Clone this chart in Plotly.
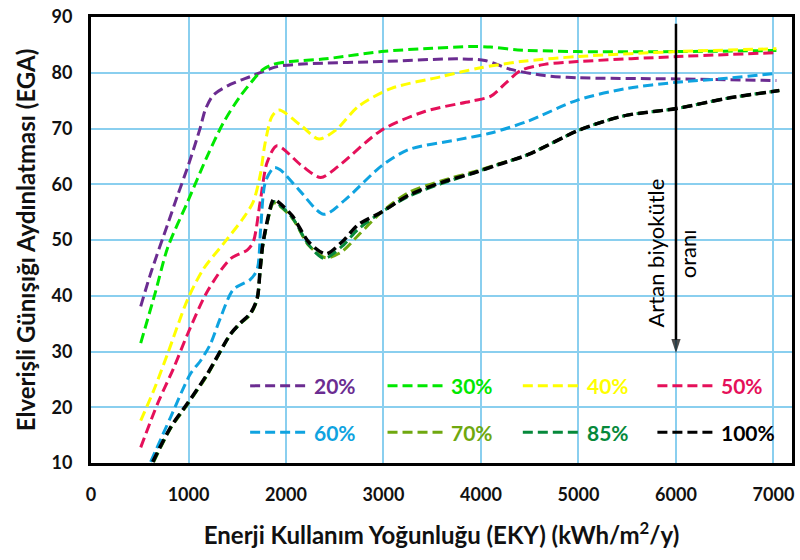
import plotly.graph_objects as go

# Biomass ratio series (EKY in kWh/m2/y on x, EGA on y)
labels = ["20%", "30%", "40%", "50%", "60%", "70%", "85%", "100%"]
colors = ["#6B2C91", "#00E800", "#FFFF00", "#E5105A", "#0FA3E0", "#6FA80F", "#06893B", "#000000"]
widths = [3, 3, 3, 3, 3, 3, 3, 3.5]

x_20 = [510, 612, 786, 888, 1000, 1122, 1173, 1255, 1429, 1633, 1908, 2214, 2980, 3765, 4041, 4306, 4653, 4990, 6010, 7030]
y_20 = [38.1, 44.0, 52.8, 58.0, 63.5, 70.2, 73.4, 76.0, 77.9, 79.3, 81.1, 81.6, 82.0, 82.5, 82.2, 80.6, 79.5, 79.1, 78.9, 78.6]

x_30 = [510, 663, 786, 990, 1194, 1357, 1531, 1765, 1867, 2041, 2408, 2980, 3500, 3898, 4100, 4378, 4990, 6010, 7030]
y_30 = [31.5, 40.8, 48.6, 56.8, 65.1, 71.0, 75.8, 80.6, 81.5, 82.0, 82.5, 83.8, 84.4, 84.7, 84.6, 84.1, 83.8, 83.8, 84.0]

x_40 = [510, 643, 786, 990, 1153, 1357, 1561, 1663, 1735, 1786, 1857, 1929, 2163, 2337, 2510, 2745, 3082, 3592, 3969, 4408, 4990, 6010, 7030]
y_40 = [17.6, 23.0, 29.6, 39.3, 44.8, 49.3, 53.9, 56.8, 61.6, 67.4, 72.2, 73.3, 70.4, 68.1, 69.7, 74.0, 77.2, 79.3, 80.8, 82.0, 82.9, 83.8, 84.3]

x_50 = [510, 684, 847, 990, 1194, 1429, 1602, 1663, 1735, 1806, 1908, 2163, 2357, 2541, 2980, 3429, 3898, 4102, 4245, 4408, 4653, 4990, 6010, 7030]
y_50 = [12.8, 20.7, 27.0, 33.1, 40.8, 46.6, 48.2, 49.6, 56.8, 63.9, 66.9, 63.3, 61.2, 63.3, 69.7, 73.1, 74.9, 75.8, 78.0, 80.4, 81.5, 82.0, 82.9, 83.6]

x_60 = [612, 816, 1020, 1122, 1224, 1327, 1459, 1633, 1704, 1740, 1790, 1880, 1940, 2133, 2388, 2612, 2980, 3255, 3765, 4102, 4480, 4990, 5500, 6010, 6520, 7030]
y_60 = [10.2, 18.2, 26.0, 28.3, 31.3, 36.0, 41.1, 42.9, 44.7, 52.0, 60.5, 63.0, 62.6, 59.0, 54.6, 57.3, 63.3, 66.2, 68.0, 69.2, 71.3, 75.1, 77.2, 78.3, 79.0, 79.9]

x_70 = [643, 816, 990, 1194, 1429, 1531, 1633, 1704, 1735, 1765, 1857, 1878, 2061, 2235, 2408, 2571, 2745, 2980, 3255, 3592, 3939, 4173, 4480, 4990, 5265, 5500, 6010, 6520, 7060]
y_70 = [10.2, 16.2, 20.5, 25.8, 33.0, 35.0, 36.6, 39.3, 44.5, 49.3, 56.3, 56.7, 54.0, 49.0, 46.8, 47.9, 50.9, 55.0, 58.5, 60.6, 62.3, 63.6, 65.3, 69.6, 71.3, 72.4, 73.6, 75.4, 76.8]

x_85 = [640, 816, 990, 1194, 1429, 1531, 1633, 1704, 1735, 1765, 1857, 1878, 2061, 2235, 2390, 2571, 2745, 2980, 3255, 3592, 3939, 4173, 4480, 4990, 5265, 5500, 6010, 6520, 7060]
y_85 = [10.2, 16.3, 20.6, 25.9, 33.0, 35.0, 36.7, 39.4, 44.6, 49.4, 56.5, 56.9, 54.1, 49.1, 46.7, 48.8, 52.0, 55.0, 57.8, 60.1, 62.1, 63.5, 65.3, 69.6, 71.3, 72.4, 73.6, 75.4, 76.8]

x_100 = [633, 816, 990, 1194, 1429, 1531, 1633, 1704, 1735, 1765, 1857, 1878, 2061, 2235, 2408, 2571, 2745, 2980, 3255, 3592, 3939, 4173, 4480, 4990, 5265, 5500, 6010, 6520, 7060]
y_100 = [10.2, 16.4, 20.7, 26.0, 33.1, 35.1, 36.8, 39.5, 44.8, 49.6, 56.8, 57.3, 54.4, 49.6, 47.5, 49.6, 52.8, 55.0, 58.0, 60.3, 62.1, 63.5, 65.3, 69.6, 71.3, 72.4, 73.6, 75.4, 76.8]

xs = [x_20, x_30, x_40, x_50, x_60, x_70, x_85, x_100]
ys = [y_20, y_30, y_40, y_50, y_60, y_70, y_85, y_100]

x_ticks = [0, 1000, 2000, 3000, 4000, 5000, 6000, 7000]
y_ticks = [10, 20, 30, 40, 50, 60, 70, 80, 90]

# "Increasing biomass ratio" arrow: shaft at EKY 6000, from top down
arrow_x = [6000, 6000]
arrow_y = [88.8, 29.7]

FONT = "Lato"
DASH = "10px,5px"
GRID = "#8ACFEF"

fig = go.Figure()
for lab, col, w, xv, yv in zip(labels, colors, widths, xs, ys):
    fig.add_trace(go.Scatter(
        x=xv, y=yv, name=lab, mode="lines",
        line=dict(color=col, width=w, dash=DASH, shape="spline", smoothing=0.8),
        showlegend=False, hoverinfo="skip",
    ))

fig.add_trace(go.Scatter(
    x=arrow_x, y=arrow_y, mode="lines+markers", showlegend=False, hoverinfo="skip",
    line=dict(color="#000000", width=2.5),
    marker=dict(symbol=["circle", "arrow"], size=[0, 15], color="#000000",
                angleref="previous", line=dict(width=0)),
))

# Hand-built two-row legend inside the plot area
col_x0 = [0.227, 0.423, 0.616, 0.808]
row_y = [0.173, 0.069]
for i, (lab, col) in enumerate(zip(labels, colors)):
    r, c = divmod(i, 4)
    x0 = col_x0[c]
    fig.add_shape(type="line", xref="paper", yref="paper",
                  x0=x0, x1=x0 + 0.083, y0=row_y[r], y1=row_y[r],
                  line=dict(color=col, width=3, dash=DASH))
    fig.add_annotation(xref="paper", yref="paper", x=x0 + 0.088, y=row_y[r],
                       text=lab, showarrow=False, xanchor="left", yanchor="middle",
                       font=dict(family=FONT, size=21, color=col, weight="bold"))

fig.add_annotation(x=5786, y=47.6, xref="x", yref="y", text="Artan biyokütle",
                   textangle=-90, showarrow=False,
                   font=dict(family=FONT, size=22, color="#000000"))
fig.add_annotation(x=6112, y=47.6, xref="x", yref="y", text="oranı",
                   textangle=-90, showarrow=False,
                   font=dict(family=FONT, size=22, color="#000000"))

axis_common = dict(
    showgrid=True, gridcolor=GRID, gridwidth=2,
    showline=True, linecolor="#000000", linewidth=3, mirror=True,
    zeroline=False, ticks="",
    tickfont=dict(family=FONT, size=18, color="#111111", weight="bold"),
)

fig.update_xaxes(range=[0, 7190], tickvals=x_ticks, ticklabelstandoff=13,
                 title=dict(text="Enerji Kullanım Yoğunluğu (EKY) (kWh/m<sup>2</sup>/y)",
                            font=dict(family=FONT, size=24, color="#111111", weight="bold"),
                            standoff=24),
                 **axis_common)
fig.update_yaxes(range=[10, 90], tickvals=y_ticks, ticklabelstandoff=12,
                 title=dict(text="Elverişli Günışığı Aydınlatması (EGA)",
                            font=dict(family=FONT, size=24, color="#111111", weight="bold"),
                            standoff=10),
                 **axis_common)

fig.update_layout(
    width=800, height=560,
    margin=dict(l=91, r=5, t=13, b=97),
    paper_bgcolor="#FFFFFF", plot_bgcolor="#FFFFFF",
    showlegend=False,
)

fig.write_html("out.html")
